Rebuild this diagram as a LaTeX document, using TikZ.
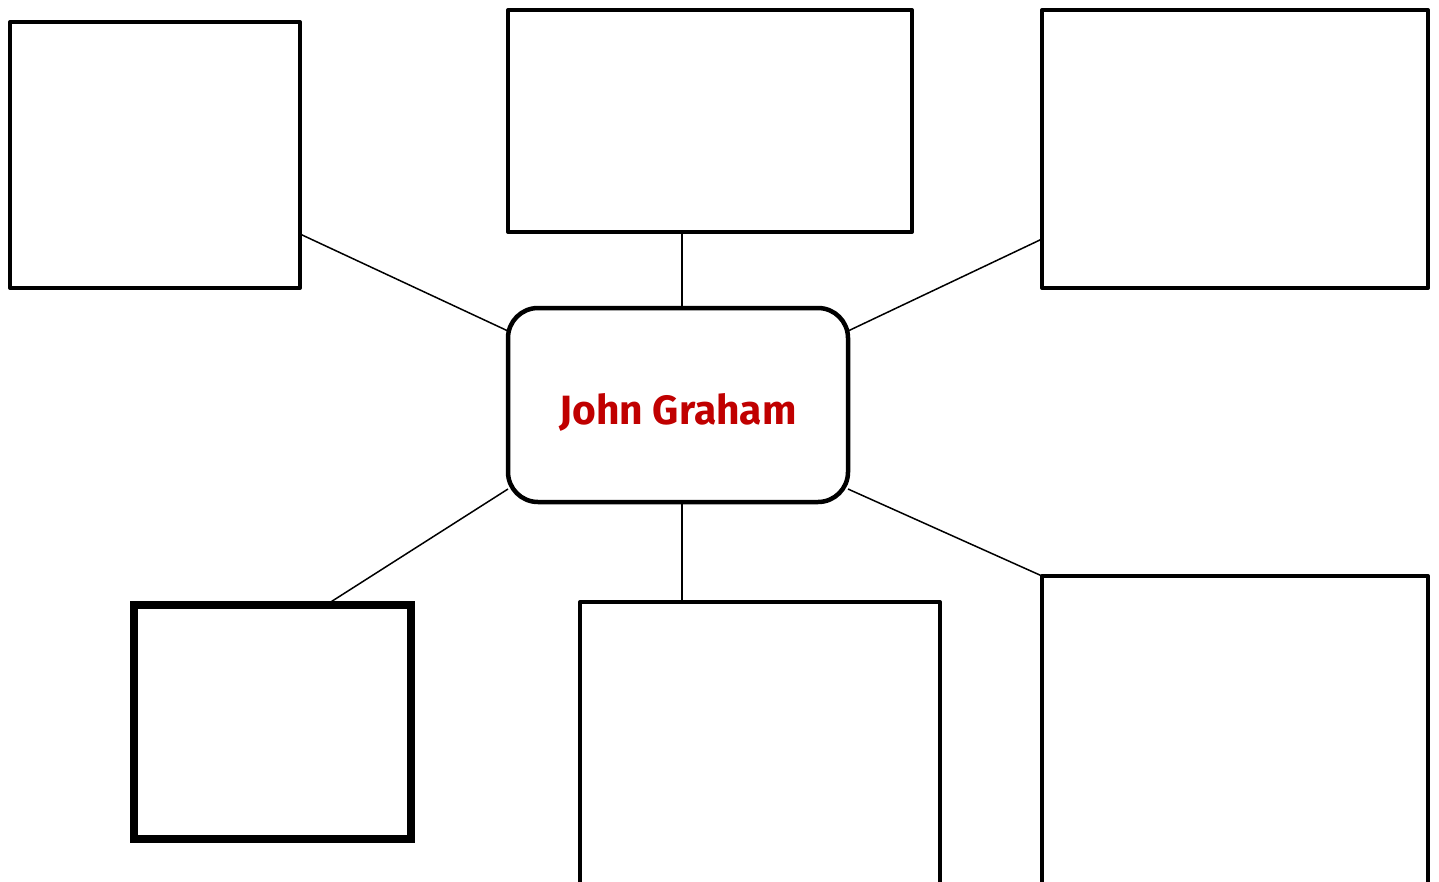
\documentclass[tikz,border=0pt]{standalone}
\usepackage{fontspec}
\usepackage{graphicx}
\newfontfamily\labelfont{Fira Sans}
\definecolor{namered}{HTML}{C00000}
\begin{document}
\begin{tikzpicture}[x=1pt,y=-1pt,
  box/.style={draw=black, fill=white, line width=4pt, inner sep=0pt, outer sep=0pt, anchor=north west, line join=round},
  thickbox/.style={box, line width=8pt, line join=miter},
  link/.style={draw=black, line width=1.5pt}]
\useasboundingbox (0,0) rectangle (1439,881);
\node[box, minimum width=290pt, minimum height=266pt] (tl) at (10,22) {};
\node[box, minimum width=404pt, minimum height=222pt] (tm) at (508,10) {};
\node[box, minimum width=386pt, minimum height=278pt] (tr) at (1042,10) {};
\node[thickbox, minimum width=277pt, minimum height=234pt] (bl) at (134,605) {};
\node[box, minimum width=360pt, minimum height=320pt] (bm) at (580,602) {};
\node[box, minimum width=386pt, minimum height=340pt] (br) at (1042,576) {};
\node[box, line width=4.5pt, rounded corners=30pt, minimum width=340pt, minimum height=194pt] (c) at (508,308) {};
\node[text=namered, inner sep=0pt, anchor=base] (name) at (678,424) {\resizebox{237pt}{31pt}{\labelfont\bfseries John Graham}};
\draw[link] ([yshift=-79pt]tl.east) -- ([yshift=74pt]c.west);
\draw[link] ([xshift=-28pt]tm.south) -- ([xshift=4pt]c.north);
\draw[link] ([yshift=-90pt]tr.west) -- ([yshift=74pt]c.east);
\draw[link] ([xshift=53.5pt]bl.north) -- ([yshift=-84pt]c.west);
\draw[link] ([xshift=-78pt]bm.north) -- ([xshift=4pt]c.south);
\draw[link] (br.north west) -- ([yshift=-84pt]c.east);
\end{tikzpicture}
\end{document}
